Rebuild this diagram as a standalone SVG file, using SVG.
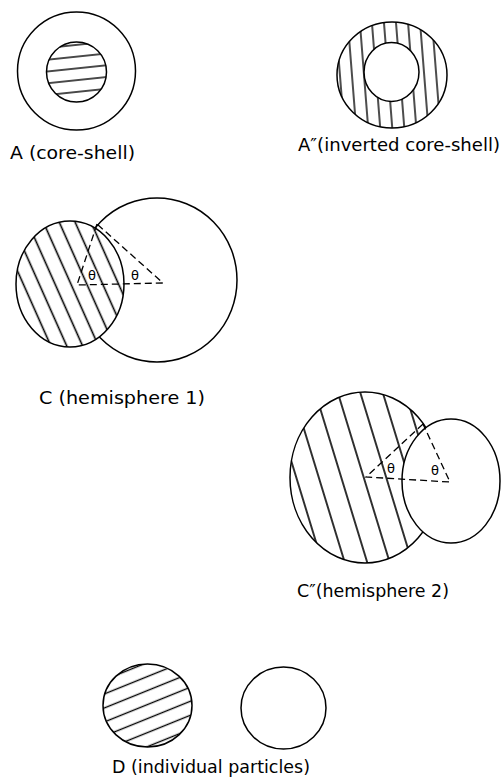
<svg xmlns="http://www.w3.org/2000/svg" width="501" height="783" viewBox="0 0 501 783">
<style>
.ol{fill:#fff;stroke:#000;stroke-width:1.5}
.dash{fill:none;stroke:#000;stroke-width:1.3;stroke-dasharray:7 4}
.lbl{font-family:"DejaVu Sans","Liberation Sans",sans-serif;font-size:17px;fill:#000}
.th{font-family:"DejaVu Sans","Liberation Sans",sans-serif;font-size:13px;fill:#000;text-anchor:middle;stroke:#fff;stroke-width:3;paint-order:stroke}
.hl{stroke:#000;fill:none}
</style>
<defs>
<pattern id="hA" patternUnits="userSpaceOnUse" width="11.7" height="11.7" patternTransform="rotate(84)">
<rect width="11.7" height="11.7" fill="#fff"/><path class="hl" d="M5.85 -1V13" stroke-width="1.4"/></pattern>
<pattern id="hA2" patternUnits="userSpaceOnUse" width="12" height="12" patternTransform="rotate(-4.5) translate(3 0)">
<rect width="12" height="12" fill="#fff"/><path class="hl" d="M6 -1V13" stroke-width="1.4"/></pattern>
<pattern id="hC" patternUnits="userSpaceOnUse" width="14.5" height="14.5" patternTransform="rotate(-24)">
<rect width="14.5" height="14.5" fill="#fff"/><path class="hl" d="M7.25 -1V16" stroke-width="1.6"/></pattern>
<pattern id="hC2" patternUnits="userSpaceOnUse" width="21.5" height="21.5" patternTransform="rotate(-17) translate(4 0)">
<rect width="21.5" height="21.5" fill="#fff"/><path class="hl" d="M10.75 -1V23" stroke-width="1.6"/></pattern>
<pattern id="hD" patternUnits="userSpaceOnUse" width="13" height="13" patternTransform="rotate(68)">
<rect width="13" height="13" fill="#fff"/><path class="hl" d="M6.5 -1V14" stroke-width="1.4"/></pattern>
</defs>

<g id="A">
<circle class="ol" cx="76.5" cy="71" r="59"/>
<circle class="ol" cx="76.5" cy="72" r="30" style="fill:url(#hA)"/>
<text class="lbl" x="10" y="159" textLength="125" lengthAdjust="spacingAndGlyphs">A (core-shell)</text>
</g>

<g id="A2">
<ellipse class="ol" cx="392" cy="75" rx="55" ry="53" style="fill:url(#hA2)"/>
<ellipse class="ol" cx="391.5" cy="72" rx="27.5" ry="29.5"/>
<text class="lbl" x="298" y="151" textLength="202" lengthAdjust="spacingAndGlyphs">A″(inverted core-shell)</text>
</g>

<g id="C">
<ellipse class="ol" cx="157" cy="280" rx="80" ry="82"/>
<ellipse class="ol" cx="70" cy="284" rx="54" ry="63" style="fill:url(#hC)"/>
<text class="lbl" x="39" y="404" textLength="166" lengthAdjust="spacingAndGlyphs">C (hemisphere 1)</text>
</g>

<g id="C2">
<ellipse class="ol" cx="365" cy="477.5" rx="75" ry="85.5" style="fill:url(#hC2)"/>
<ellipse class="ol" cx="451" cy="481" rx="49" ry="62"/>
<text class="lbl" x="297" y="597" textLength="152" lengthAdjust="spacingAndGlyphs">C″(hemisphere 2)</text>
</g>

<g id="D">
<ellipse class="ol" cx="147.5" cy="705.5" rx="44.5" ry="41.5" style="fill:url(#hD)"/>
<ellipse class="ol" cx="283.5" cy="708" rx="42.5" ry="41"/>
<text class="lbl" x="112" y="773" textLength="198" lengthAdjust="spacingAndGlyphs">D (individual particles)</text>
</g>

<g id="connectors">
<path class="dash" d="M97 224L77 285L163 283Z"/>
<path class="dash" d="M423 424L366 477L450 482Z"/>
<text class="th" x="92" y="280">θ</text>
<text class="th" x="135" y="280">θ</text>
<text class="th" x="391" y="473">θ</text>
<text class="th" x="435" y="475">θ</text>
</g>
</svg>
